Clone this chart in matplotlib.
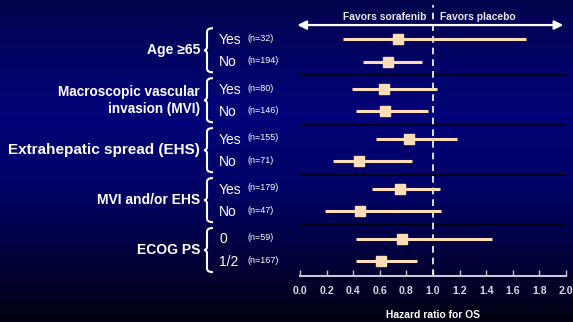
import matplotlib.pyplot as plt
import numpy as np
from matplotlib.path import Path
from matplotlib.patches import PathPatch
from matplotlib import transforms

plt.rcParams['font.family'] = ['Liberation Sans', 'DejaVu Sans']

# data
groups = ["Age \u226565", "Macroscopic vascular\ninvasion (MVI)", "Extrahepatic spread (EHS)",
          "MVI and/or EHS", "ECOG PS"]
group_sizes = [10, 9.8, 11, 10, 10]
subgroups = ["Yes", "No", "Yes", "No", "Yes", "No", "Yes", "No", "0", "1/2"]
n_pat = [32, 194, 80, 146, 155, 71, 179, 47, 59, 167]
hr = [0.74, 0.66, 0.63, 0.64, 0.82, 0.44, 0.75, 0.45, 0.77, 0.61]
ci_low = [0.32, 0.47, 0.39, 0.42, 0.57, 0.25, 0.54, 0.19, 0.42, 0.42]
ci_high = [1.70, 0.92, 1.03, 0.96, 1.18, 0.84, 1.05, 1.06, 1.44, 0.88]
xticks = [0.0, 0.2, 0.4, 0.6, 0.8, 1.0, 1.2, 1.4, 1.6, 1.8, 2.0]

W, H = 573, 322
peach = '#FDDDB8'
grp_step = 2.22
pos = np.array([g * grp_step + i for g in range(len(groups)) for i in range(2)])

fig = plt.figure(figsize=(W / 100, H / 100), dpi=100)

# background gradient: dark navy top, brighter band, near black bottom
bg = fig.add_axes([0, 0, 1, 1])
stops = np.array([0.0, 0.35, 0.6, 1.0])
cols = np.array([[4, 4, 78], [3, 3, 122], [2, 2, 100], [1, 1, 18]]) / 255
t = np.linspace(0, 1, 322)
grad = np.stack([np.interp(t, stops, cols[:, c]) for c in range(3)], axis=1)[:, None, :]
bg.imshow(grad, aspect='auto', extent=[0, W, H, 0])
bg.set_xlim(0, W)
bg.set_ylim(H, 0)
bg.axis('off')

# forest plot axes: pixel box x 300..566, y 5..276
ax = fig.add_axes([300 / W, 1 - 276 / H, 266 / W, 271 / H])
ax.patch.set_alpha(0)
y_top = -34 / 22.5
y_bot = (276 - 39) / 22.5
ax.set_ylim(y_bot, y_top)
ax.set_xlim(0, 2.0)

for p, lo, hi, h in zip(pos, ci_low, ci_high, hr):
    ax.plot([lo, hi], [p, p], color=peach, lw=2.2, solid_capstyle='butt', zorder=3)
    ax.plot(h, p, marker='s', ms=6.8, color=peach, zorder=4)

# separators between groups
for g in range(1, len(groups)):
    yy = g * grp_step - (grp_step - 1) / 2
    ax.axhline(yy, color='black', lw=1.1, zorder=2)

ax.axvline(1.0, color='white', lw=1.2, ls=(0, (4, 3)), zorder=2)

# arrow and favors labels
ax.annotate('', xy=(-0.02, -0.62), xytext=(1.98, -0.62),
            arrowprops=dict(arrowstyle='<|-|>', color='white', lw=1.6,
                            mutation_scale=13, shrinkA=0, shrinkB=0),
            annotation_clip=False)
ax.text(0.95, -1.0, "Favors sorafenib", color='#E8E8F0', fontsize=7.4,
        fontweight='bold', ha='right', va='center')
ax.text(1.05, -1.0, "Favors placebo", color='#E8E8F0', fontsize=7.4,
        fontweight='bold', ha='left', va='center')

for s in ['top', 'right', 'left']:
    ax.spines[s].set_visible(False)
ax.spines['bottom'].set_color('#C8C8D0')
ax.spines['bottom'].set_linewidth(1.5)
ax.set_yticks([])
ax.set_xticks(xticks)
ax.set_xticklabels([f"{v:.1f}" for v in xticks])
ax.tick_params(axis='x', direction='in', length=4, width=1, color='#C8C8D0',
               labelcolor='#D8D8E4', labelsize=7.6, pad=7)
for lab in ax.get_xticklabels():
    lab.set_fontweight('bold')
ax.set_xlabel("Hazard ratio for OS", color='white', fontsize=7.4,
              fontweight='bold', labelpad=10)

# left-hand labels: x in pixels, y in row units
trans = transforms.blended_transform_factory(bg.transData, ax.transData)
for g, (name, fs) in enumerate(zip(groups, group_sizes)):
    yc = g * grp_step + 0.5
    ax.text(200, yc, name, transform=trans, color='white', fontsize=fs,
            fontweight='bold', ha='right', va='center', linespacing=1.25)
    # brace
    y0, y1 = yc - 0.98, yc + 0.98
    k = 0.16
    verts = [(213, y0), (207, y0), (207, y0 + k),
             (207, yc - k),
             (207, yc), (204, yc),
             (207, yc), (207, yc + k),
             (207, y1 - k),
             (207, y1), (213, y1)]
    codes = [Path.MOVETO, Path.CURVE3, Path.CURVE3,
             Path.LINETO,
             Path.CURVE3, Path.CURVE3,
             Path.CURVE3, Path.CURVE3,
             Path.LINETO,
             Path.CURVE3, Path.CURVE3]
    ax.add_patch(PathPatch(Path(verts, codes), transform=trans, fill=False,
                           edgecolor='white', lw=1.5, clip_on=False))

for p, sub, n in zip(pos, subgroups, n_pat):
    ax.text(219, p + 0.03, sub, transform=trans, color='white', fontsize=10,
            ha='left', va='center')
    ax.text(248, p - 0.04, f"(n={n})", transform=trans, color='white',
            fontsize=6.5, ha='left', va='center')

fig.savefig('out.png', dpi=100)
